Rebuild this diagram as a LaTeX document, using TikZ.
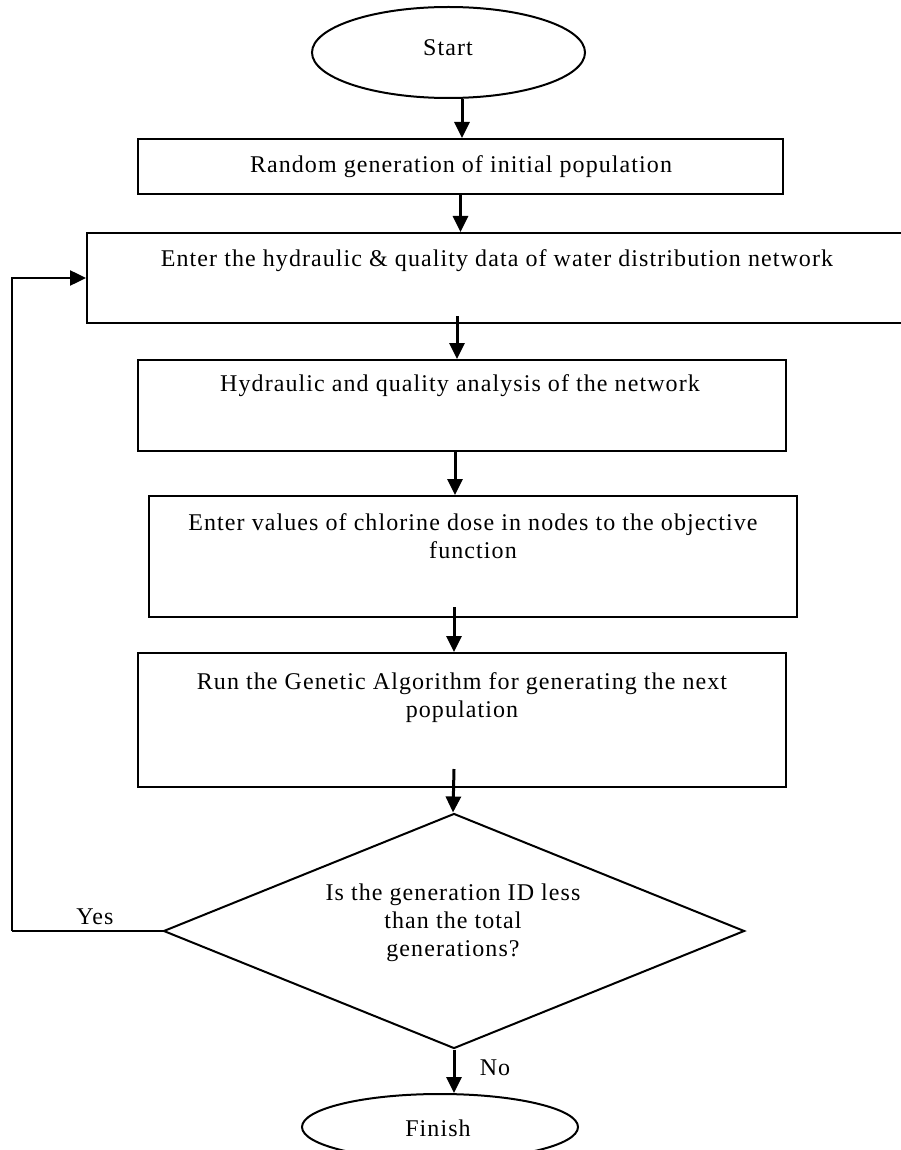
\documentclass[tikz,border=0pt]{standalone}
\usepackage{fontspec}
\setmainfont{Liberation Serif}[LetterSpace=4.5]
\usetikzlibrary{shapes.geometric,arrows.meta,calc}
\begin{document}
\begin{tikzpicture}[x=1pt,y=1pt,
  boxst/.style={draw,line width=2pt,rectangle,inner sep=0pt},
  ovalst/.style={draw,line width=2pt,ellipse,inner sep=0pt},
  decst/.style={draw,line width=2pt,diamond,inner sep=0pt},
  txt/.style={font=\fontsize{24pt}{28pt}\selectfont,align=center,inner sep=0pt},
  arr/.style={line width=3pt,-{Triangle[length=16pt,width=15pt]}},
  fb/.style={line width=2.5pt}]
\useasboundingbox (0,0) rectangle (901,-1150);
\clip (0,0) rectangle (901,-1150);
% shapes
\node[ovalst,minimum width=273pt,minimum height=91pt] (st) at (448.5,-52.5) {};
\node[txt] (tst) at (448,-48) {Start};
\node[boxst,minimum width=645pt,minimum height=55pt] (b1) at (460.5,-166.5) {};
\node[txt] (t1) at (461,-167) {Random generation of initial population};
\node[boxst,minimum width=828pt,minimum height=90pt] (b2) at (501,-278) {};
\node[txt] (t2) at (497,-261) {Enter the hydraulic \& quality data of water distribution network};
\node[boxst,minimum width=648pt,minimum height=91pt] (b3) at (462,-405.5) {};
\node[txt] (t3) at (460,-386) {Hydraulic and quality analysis of the network};
\node[boxst,minimum width=648pt,minimum height=121pt] (b4) at (473,-556.5) {};
\node[txt] (t4) at (473,-536) {Enter values of chlorine dose in nodes to the objective\\function};
\node[boxst,minimum width=648pt,minimum height=134pt] (b5) at (462,-720) {};
\node[txt] (t5) at (462,-698) {Run the Genetic Algorithm for generating the next\\population};
\node[decst,minimum width=581pt,minimum height=235pt] (dm) at (454,-931) {};
\node[txt] (td) at (453,-923) {Is the generation ID less\\than the total\\generations?};
\node[ovalst,minimum width=276pt,minimum height=66pt] (fin) at (440,-1127) {};
\node[txt] (tfin) at (438,-1128) {Finish};
\node[txt] (yes) at (95,-917) {Yes};
\node[txt] (no) at (495,-1068) {No};
% connectors
\draw[arr] ($(st.south)+(13.5,0)$) -- ($(b1.north)+(1.5,0)$);
\draw[arr] (b1.south) -- (b1.south |- b2.north);
\draw[arr] ($(b3.north |- b2.south)+(-5,8)$) -- ($(b3.north)+(-5,0)$);
\draw[arr] ($(b3.south)+(-7,0)$) -- ($(b4.north)+(-18,0)$);
\draw[arr] ($(b4.south)+(-19,11)$) -- ($(b5.north)+(-8,0)$);
\draw[arr] ($(b5.south)+(-8,19)$) -- ($(dm.north)+(-1,0)$);
\draw[arr] (dm.south) -- (dm.south |- fin.north);
\coordinate (c1) at (12,-931);
\draw[fb] (dm.west) -- (c1);
\draw[fb,-{Triangle[length=16pt,width=15pt]}] (c1) |- (b2.west);
\end{tikzpicture}
\end{document}
